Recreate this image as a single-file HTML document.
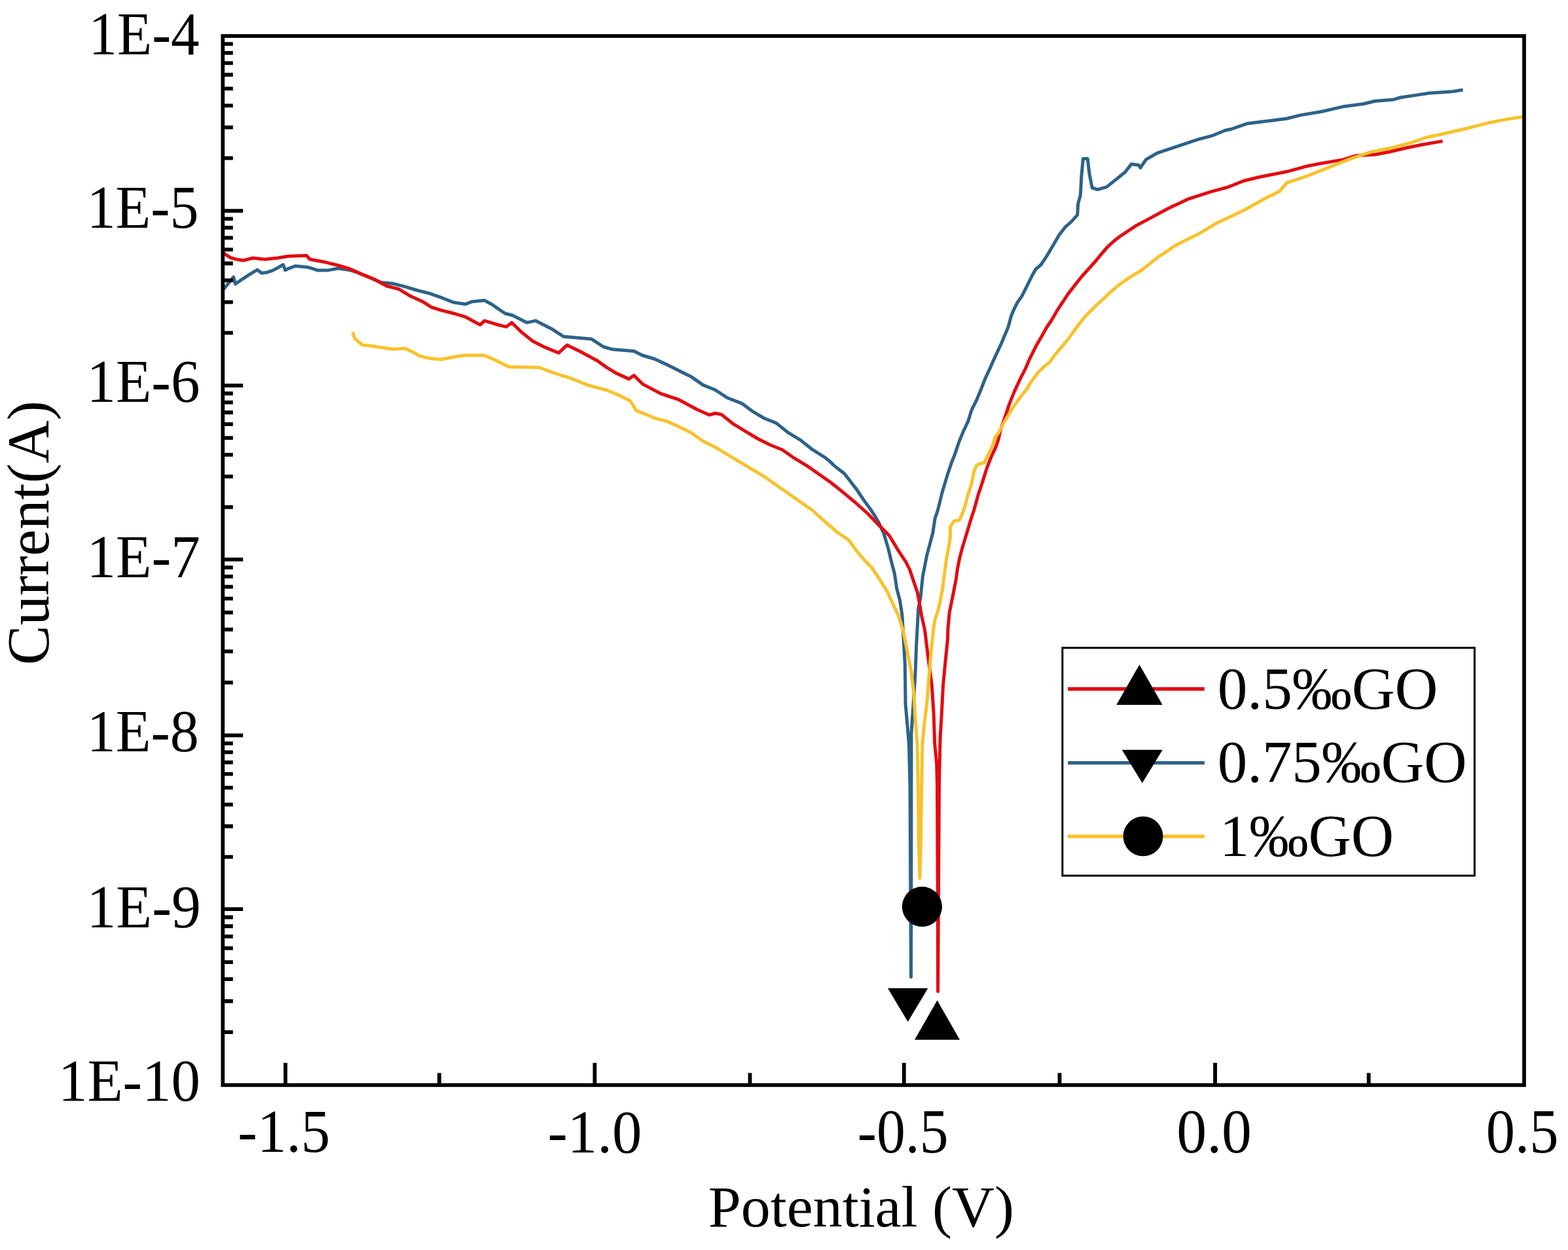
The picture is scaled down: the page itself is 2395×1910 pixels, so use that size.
<!DOCTYPE html>
<html><head><meta charset="utf-8"><title>Tafel plot</title>
<style>html,body{margin:0;padding:0;background:#fff;overflow:hidden;}svg{display:block;}text{font-kerning:none;}</style>
</head><body>
<svg width="2395" height="1910" viewBox="0 0 2395 1910">
<rect width="2395" height="1910" fill="#fff"/>
<g fill="none" stroke-linejoin="round" stroke-linecap="butt">
<path d="M341.1,442.3 L346.7,435.7 L356.7,423.4 L359.5,434.0 L369.0,427.3 L377.3,421.8 L385.6,416.7 L392.9,412.3 L399.6,417.3 L407.9,416.2 L416.3,413.4 L424.6,409.0 L432.4,404.5 L435.7,412.8 L441.3,410.1 L451.3,406.4 L469.9,408.2 L484.7,412.9 L501.4,412.9 L516.3,410.1 L534.8,412.9 L544.1,415.7 L562.6,423.1 L581.2,431.4 L599.7,433.3 L618.3,437.9 L636.8,443.5 L655.4,448.1 L673.9,454.6 L692.5,462.0 L711.1,464.8 L720.3,461.1 L740.0,459.0 L751.1,465.0 L771.5,479.0 L782.7,481.7 L804.9,492.9 L817.9,490.1 L842.0,502.2 L860.6,514.2 L903.3,517.9 L921.8,530.0 L934.8,533.7 L968.2,536.5 L981.2,543.0 L999.7,548.5 L1018.3,556.9 L1036.8,566.2 L1055.4,575.4 L1074.0,588.4 L1092.5,595.8 L1111.2,608.0 L1133.6,616.7 L1148.4,627.8 L1167.0,639.0 L1185.5,646.4 L1204.1,661.2 L1222.6,672.4 L1241.2,687.2 L1260.0,699.0 L1267.0,704.4 L1274.0,711.4 L1281.0,717.0 L1289.3,723.3 L1294.9,730.3 L1301.9,739.4 L1308.9,748.4 L1314.5,756.8 L1321.5,767.3 L1328.4,776.4 L1335.4,786.8 L1342.4,798.7 L1350.1,815.8 L1357.0,839.1 L1361.7,858.9 L1366.3,876.3 L1369.8,899.6 L1374.5,917.1 L1378.0,940.3 L1382.3,1015.6 L1383.1,1076.1 L1388.4,1136.6 L1390.0,1200.0 L1391.0,1400.0 L1391.5,1493.0 L1391.8,1400.0 L1392.0,1120.0 L1395.5,1070.0 L1397.5,1038.0 L1398.2,1024.7 L1399.7,985.4 L1401.1,960.0 L1402.7,930.2 L1406.0,913.6 L1407.7,897.1 L1409.4,880.5 L1412.7,863.9 L1416.0,847.3 L1420.4,830.8 L1424.8,814.2 L1428.1,792.1 L1432.3,780.0 L1439.2,752.0 L1446.9,726.4 L1453.3,707.2 L1458.4,694.4 L1464.8,675.2 L1471.2,659.8 L1478.9,643.2 L1484.0,626.6 L1491.7,611.2 L1498.1,595.8 L1504.5,579.2 L1512.2,562.6 L1517.5,550.5 L1529.7,524.3 L1540.0,499.5 L1544.2,483.8 L1548.4,473.3 L1553.6,462.8 L1560.9,452.4 L1566.2,441.9 L1571.4,431.4 L1576.6,421.0 L1581.9,411.5 L1590.0,404.5 L1599.3,390.6 L1608.6,374.8 L1617.8,359.1 L1627.1,347.0 L1636.4,338.6 L1645.7,328.4 L1646.6,311.7 L1650.3,297.8 L1651.8,270.0 L1654.3,242.4 L1661.2,242.4 L1664.0,266.1 L1668.2,287.0 L1676.5,289.7 L1690.4,285.6 L1704.4,274.4 L1718.3,263.3 L1728.0,250.8 L1739.1,252.2 L1741.9,256.4 L1750.3,243.8 L1767.0,234.1 L1787.8,227.1 L1808.7,220.2 L1829.6,213.2 L1850.5,207.7 L1871.3,199.3 L1880.0,197.5 L1905.6,188.7 L1939.7,184.4 L1965.3,181.2 L1986.7,175.9 L2018.7,170.5 L2050.7,163.1 L2082.7,158.8 L2100.0,154.5 L2127.8,152.3 L2139.0,149.0 L2161.2,145.6 L2183.5,142.3 L2216.9,140.1 L2234.5,137.3" stroke="#2e6287" stroke-width="5"/>
<path d="M341.1,386.7 L352.3,393.9 L360.0,396.0 L371.5,398.0 L386.4,394.3 L404.9,396.2 L423.5,394.3 L440.2,391.5 L468.0,390.6 L473.6,396.2 L497.7,400.8 L516.3,405.5 L534.8,411.0 L553.4,419.4 L571.9,426.8 L590.5,437.0 L609.0,441.6 L627.6,452.8 L646.1,461.1 L659.1,469.5 L674.0,474.1 L692.5,478.7 L711.1,484.3 L733.3,496.4 L740.0,490.1 L758.6,495.7 L773.4,499.4 L781.7,492.9 L795.7,506.8 L814.2,521.6 L832.8,530.9 L853.2,539.3 L866.2,527.2 L888.4,538.3 L912.5,551.3 L925.5,560.6 L940.4,569.9 L960.8,579.1 L968.2,573.6 L981.2,586.6 L1009.0,601.4 L1036.8,610.7 L1064.8,625.7 L1083.3,634.0 L1092.8,631.5 L1102.0,633.4 L1120.6,648.2 L1139.1,659.4 L1157.7,670.5 L1176.3,679.8 L1194.8,687.2 L1213.4,700.2 L1231.9,711.3 L1250.5,724.3 L1269.0,737.3 L1287.6,752.1 L1306.1,767.5 L1325.6,785.0 L1343.1,803.0 L1358.2,818.2 L1372.2,841.4 L1383.8,858.9 L1389.6,870.5 L1395.4,888.0 L1401.3,905.4 L1404.7,922.9 L1407.5,940.0 L1412.6,962.7 L1417.1,1000.5 L1423.2,1045.9 L1426.2,1091.2 L1427.7,1136.6 L1430.7,1166.8 L1431.5,1200.0 L1432.2,1350.0 L1432.6,1515.0 L1433.6,1350.0 L1434.5,1200.0 L1436.0,1129.0 L1438.3,1091.2 L1440.6,1045.9 L1444.3,1008.0 L1447.4,977.8 L1448.0,960.0 L1450.2,935.7 L1453.6,919.2 L1456.9,902.6 L1460.2,886.0 L1462.4,869.4 L1465.7,852.9 L1470.1,836.3 L1476.8,814.2 L1483.4,792.1 L1487.5,780.0 L1494.2,755.8 L1500.6,736.6 L1507.0,716.2 L1513.4,699.5 L1521.1,682.9 L1525.0,671.4 L1528.8,655.0 L1535.2,636.8 L1541.6,617.6 L1549.3,598.4 L1558.2,579.2 L1566.2,563.4 L1573.5,546.6 L1581.9,529.8 L1590.3,515.2 L1598.6,500.5 L1607.0,488.0 L1615.4,473.3 L1623.8,460.7 L1632.1,448.2 L1642.6,434.6 L1653.1,421.5 L1664.0,409.5 L1673.8,398.5 L1682.8,387.5 L1692.0,377.0 L1701.3,368.5 L1709.4,362.0 L1735.6,344.6 L1761.8,330.6 L1788.0,316.6 L1800.0,311.2 L1814.9,304.1 L1849.8,292.8 L1876.0,285.8 L1900.0,276.2 L1922.7,270.8 L1965.3,262.3 L1997.3,253.7 L2018.7,249.5 L2050.7,244.1 L2072.0,237.7 L2100.0,236.2 L2122.3,232.0 L2150.1,225.5 L2172.4,221.0 L2203.5,215.6" stroke="#e20c12" stroke-width="5"/>
<path d="M538.5,507.5 L542.2,517.7 L553.4,527.0 L562.6,527.9 L581.2,530.7 L599.7,533.5 L618.3,532.5 L629.4,537.2 L640.6,543.7 L655.4,547.4 L673.9,549.2 L692.5,545.5 L711.1,542.7 L740.0,543.0 L758.6,551.3 L777.1,560.6 L823.5,561.5 L851.3,571.7 L869.9,577.3 L897.7,588.4 L925.5,595.8 L944.1,603.3 L962.6,612.5 L971.9,627.4 L990.5,634.8 L1000.0,639.0 L1018.6,643.6 L1037.1,652.0 L1055.7,661.2 L1074.2,674.2 L1092.8,683.5 L1111.3,694.6 L1129.9,705.8 L1148.4,716.9 L1167.0,728.0 L1185.5,741.0 L1204.1,754.0 L1222.6,767.0 L1241.2,780.0 L1250.0,787.9 L1261.6,798.4 L1279.1,813.5 L1296.5,825.2 L1308.2,841.4 L1319.8,855.4 L1331.4,867.0 L1343.1,884.5 L1354.7,903.1 L1362.9,920.6 L1372.2,940.3 L1379.3,962.7 L1385.4,992.9 L1391.4,1023.2 L1396.0,1061.0 L1397.5,1091.2 L1401.0,1136.6 L1402.3,1200.0 L1403.3,1290.0 L1405.0,1342.0 L1406.5,1290.0 L1407.6,1200.0 L1409.0,1136.6 L1411.8,1106.4 L1415.6,1076.1 L1418.6,1038.3 L1421.7,1000.5 L1425.9,960.0 L1428.1,946.8 L1432.6,933.5 L1435.9,919.2 L1439.2,902.6 L1441.4,886.0 L1443.6,869.4 L1445.8,852.9 L1449.1,836.3 L1451.4,819.7 L1451.4,805.4 L1456.9,796.5 L1465.7,794.3 L1471.2,781.5 L1475.0,770.0 L1477.6,758.4 L1484.0,739.2 L1487.8,720.0 L1491.7,711.0 L1496.8,708.5 L1503.2,707.2 L1509.6,694.4 L1516.0,681.6 L1519.8,668.8 L1526.2,659.8 L1532.6,647.0 L1540.3,634.2 L1548.0,621.4 L1557.0,608.6 L1567.2,595.8 L1573.6,585.6 L1580.0,576.6 L1587.1,567.5 L1594.5,560.2 L1602.8,553.9 L1611.2,542.4 L1621.7,529.8 L1632.1,517.3 L1640.5,505.8 L1648.9,494.2 L1657.3,483.8 L1667.7,473.3 L1676.1,464.9 L1686.6,455.5 L1695.1,447.4 L1702.7,440.6 L1710.2,434.5 L1717.8,429.2 L1725.4,423.9 L1732.9,419.4 L1740.5,414.9 L1748.1,409.6 L1755.6,403.5 L1763.2,397.5 L1770.7,391.4 L1778.3,386.9 L1785.9,381.6 L1793.4,376.3 L1800.0,372.5 L1806.2,369.5 L1832.4,356.5 L1858.5,340.8 L1884.7,328.5 L1901.3,320.5 L1933.3,302.8 L1954.7,292.2 L1965.3,279.4 L1997.3,268.7 L2029.4,255.9 L2061.4,243.1 L2093.4,232.4 L2125.4,226.0 L2155.7,218.0 L2177.9,210.2 L2211.3,203.0 L2244.7,195.2 L2272.5,187.9 L2300.4,182.4 L2326.0,178.5" stroke="#f7c22c" stroke-width="5"/>
</g>
<rect x="340.3" y="55.0" width="1987.7" height="1603.0" fill="none" stroke="#000" stroke-width="5.7"/>
<path d="M436.0,1658.0 V1624.0 M908.4,1658.0 V1624.0 M1380.8,1658.0 V1624.0 M1856.0,1658.0 V1624.0 M671.0,1658.0 V1639.5 M1145.5,1658.0 V1639.5 M1618.5,1658.0 V1639.5 M2090.6,1658.0 V1639.5 M340.3,322.1 H371.2 M340.3,589.1 H371.2 M340.3,854.9 H371.2 M340.3,1123.7 H371.2 M340.3,1389.2 H371.2 M340.3,241.69 H355.8 M340.3,194.66 H355.8 M340.3,161.29 H355.8 M340.3,135.41 H355.8 M340.3,114.26 H355.8 M340.3,96.37 H355.8 M340.3,80.88 H355.8 M340.3,67.22 H355.8 M340.3,508.72 H355.8 M340.3,461.71 H355.8 M340.3,428.35 H355.8 M340.3,402.48 H355.8 M340.3,381.33 H355.8 M340.3,363.46 H355.8 M340.3,347.97 H355.8 M340.3,334.32 H355.8 M340.3,774.89 H355.8 M340.3,728.08 H355.8 M340.3,694.87 H355.8 M340.3,669.11 H355.8 M340.3,648.07 H355.8 M340.3,630.27 H355.8 M340.3,614.86 H355.8 M340.3,601.26 H355.8 M340.3,1042.78 H355.8 M340.3,995.45 H355.8 M340.3,961.87 H355.8 M340.3,935.82 H355.8 M340.3,914.53 H355.8 M340.3,896.54 H355.8 M340.3,880.95 H355.8 M340.3,867.20 H355.8 M340.3,1309.28 H355.8 M340.3,1262.52 H355.8 M340.3,1229.35 H355.8 M340.3,1203.62 H355.8 M340.3,1182.60 H355.8 M340.3,1164.83 H355.8 M340.3,1149.43 H355.8 M340.3,1135.85 H355.8 M340.3,1577.08 H355.8 M340.3,1529.75 H355.8 M340.3,1496.17 H355.8 M340.3,1470.12 H355.8 M340.3,1448.83 H355.8 M340.3,1430.84 H355.8 M340.3,1415.25 H355.8 M340.3,1401.50 H355.8" stroke="#000" stroke-width="5.8" fill="none"/>
<g font-family="'Liberation Serif', 'Times New Roman', serif" fill="#000">
<text transform="translate(135.56,82.60) scale(0.9378,1)" font-size="92.71">1E-4</text>
<text transform="translate(132.68,348.20) scale(0.9538,1)" font-size="92.10">1E-5</text>
<text transform="translate(132.59,613.70) scale(0.9615,1)" font-size="92.43">1E-6</text>
<text transform="translate(132.57,882.40) scale(0.9595,1)" font-size="92.86">1E-7</text>
<text transform="translate(132.66,1147.80) scale(0.9643,1)" font-size="91.27">1E-8</text>
<text transform="translate(132.52,1416.50) scale(0.9626,1)" font-size="93.19">1E-9</text>
<text transform="translate(89.00,1682.10) scale(0.9760,1)" font-size="90.97">1E-10</text>
<text transform="translate(363.30,1760.07) scale(0.9480,1)" font-size="93.87">-1.5</text>
<text transform="translate(836.53,1760.67) scale(0.9665,1)" font-size="94.08">-1.0</text>
<text transform="translate(1309.75,1761.06) scale(0.9275,1)" font-size="94.52">-0.5</text>
<text transform="translate(1797.31,1761.06) scale(0.9698,1)" font-size="94.52">0.0</text>
<text transform="translate(2269.83,1761.06) scale(0.9372,1)" font-size="94.52">0.5</text>
<text transform="translate(1081.81,1873.60) scale(1.0135,1)" font-size="88.73">Potential (V)</text>
<text transform="translate(74.10,1016.23) rotate(-90) scale(0.9982,1)" font-size="91.15">Current(A)</text>
</g>
<polygon points="1431.5,1528.6 1466.0,1588.8 1397.0,1588.8" fill="#000"/>
<polygon points="1356.0,1510.1 1417.4,1510.1 1386.7,1561.3" fill="#000"/>
<circle cx="1408.4" cy="1385.4" r="30.6" fill="#000"/>
<rect x="1622.8" y="989.9" width="629.5" height="348.1" fill="#fff" stroke="#000" stroke-width="3"/>
<path d="M1631,1052.8 H1839.8" stroke="#e20c12" stroke-width="5.6"/>
<path d="M1631,1165.6 H1839.8" stroke="#2e6287" stroke-width="5.2"/>
<path d="M1631,1278 H1839.8" stroke="#f7c22c" stroke-width="5.6"/>
<polygon points="1740.4,1015.6 1775.6000000000001,1077.0 1705.2,1077.0" fill="#000"/>
<polygon points="1713.7,1145.7 1775.7,1145.7 1744.7,1196.6" fill="#000"/>
<circle cx="1746" cy="1277.9" r="30.4" fill="#000"/>
<g font-family="'Liberation Serif', 'Times New Roman', serif" fill="#000">
<text transform="translate(1859.83,1082.51) scale(1.0011,1)" font-size="90.99">0.5‰GO</text>
<text transform="translate(1859.84,1195.22) scale(1.0023,1)" font-size="90.55">0.75‰GO</text>
<text transform="translate(1863.06,1307.91) scale(0.9939,1)" font-size="90.84">1‰GO</text>
</g>
</svg>
</body></html>
